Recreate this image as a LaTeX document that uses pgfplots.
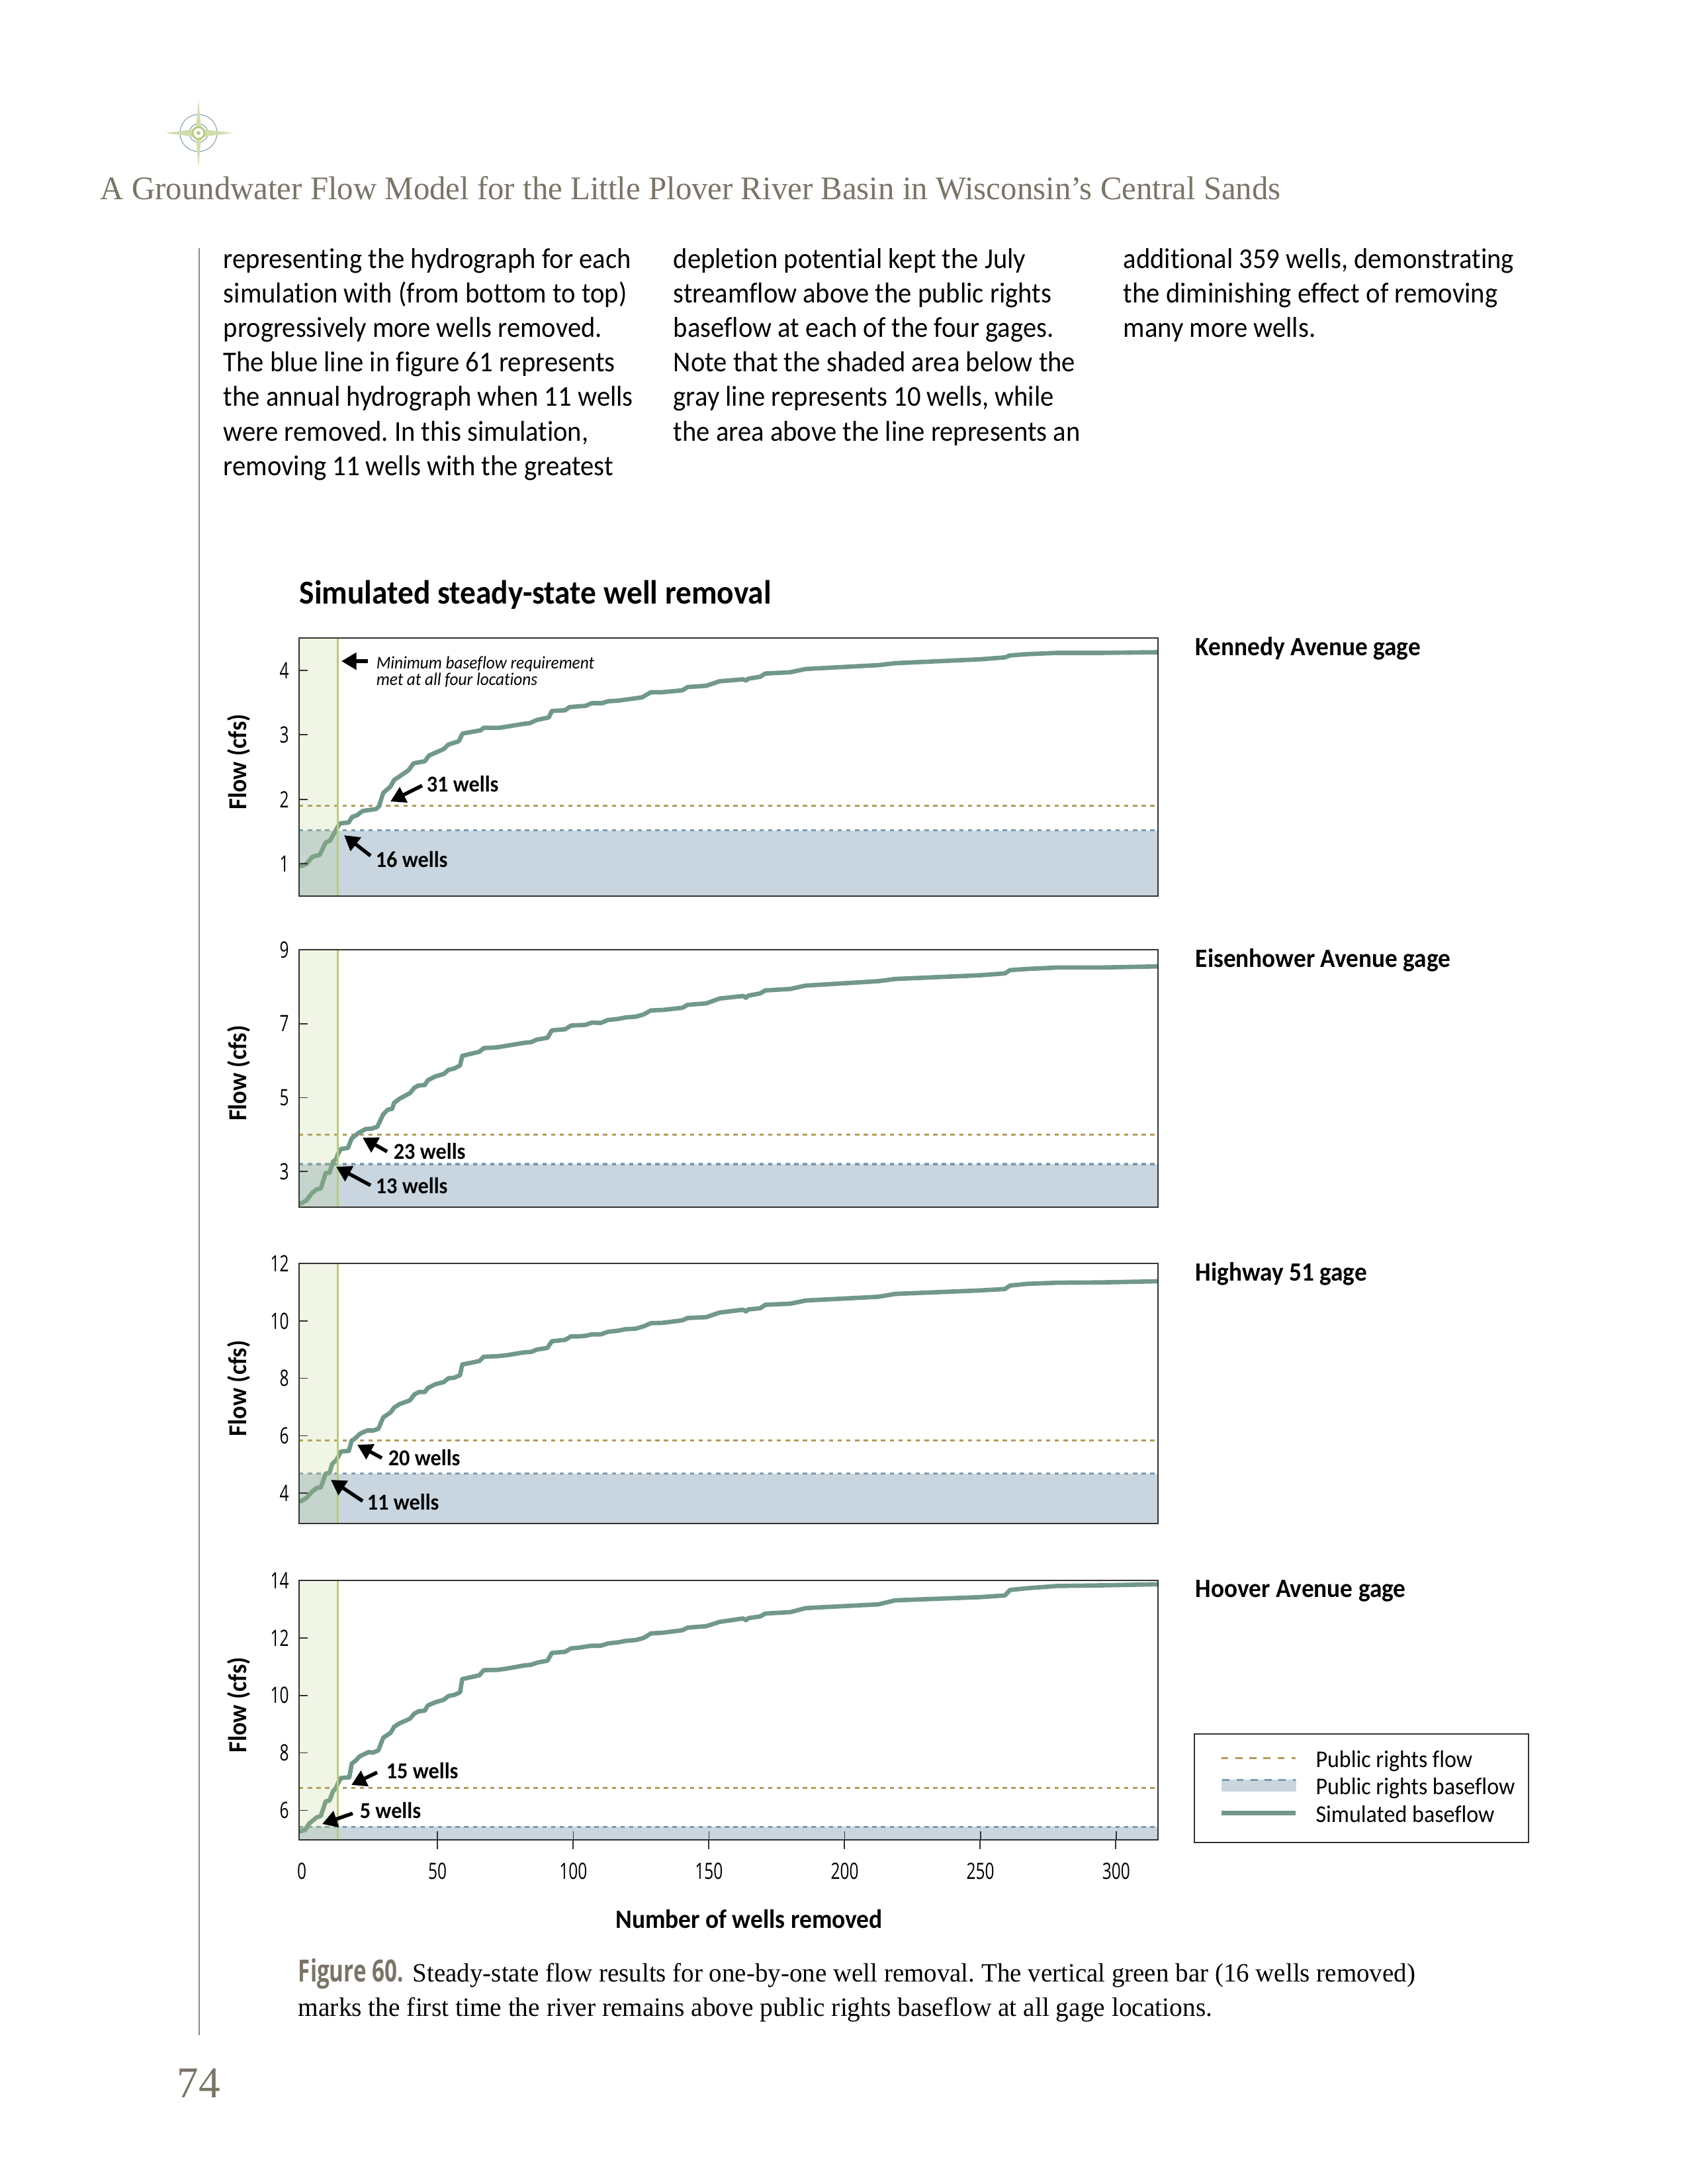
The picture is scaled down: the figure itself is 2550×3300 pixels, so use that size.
\documentclass[border=0pt]{standalone}
\usepackage{fontspec}
\setmainfont[FakeStretch=0.936, Ligatures=NoCommon]{Carlito}
\newfontfamily\condfont[FakeStretch=0.72]{Open Sans}
\newfontfamily\serif[FakeStretch=0.98]{Liberation Serif}
\usepackage{pgfplots}
\pgfplotsset{compat=1.18}
\usetikzlibrary{arrows.meta}

\definecolor{curve}{RGB}{113,152,138}
\definecolor{flowc}{RGB}{179,155,90}
\definecolor{basec}{RGB}{126,154,174}
\definecolor{basefill}{RGB}{201,214,224}
\definecolor{bandc}{RGB}{183,204,127}
\definecolor{headgray}{RGB}{122,116,104}

% x of the green bar and of the axis ends
\def\xa{-1}
\def\xb{315.4}
\def\xg{13.2}

\pgfplotsset{
  panel/.style={
    anchor=north west, scale only axis, width=311.5bp, height=93.6bp,
    xmin=\xa, xmax=\xb, axis on top, clip=false,
    axis line style={draw=black!80, line width=0.42pt},
    xtick=\empty, ytick pos=left, xtick pos=bottom,
    tick style={draw=black!80, line width=0.4pt},
    major tick length=3.2bp, tick align=inside,
    /pgf/number format/assume math mode=true,
    ticklabel style={font=\condfont\fontsize{8.2}{10}\selectfont},
    yticklabel style={inner xsep=3.5bp},
    ylabel={\bfseries Flow (cfs)},
    ylabel style={font=\fontsize{9.4}{10}\selectfont, at={(axis description cs:-0.0705,0.52)}, anchor=center, rotate=0},
  },
  flowline/.style={flowc, line width=0.75pt, dash pattern=on 1.55bp off 1.6bp, forget plot},
  baseline/.style={basec, line width=0.75pt, dash pattern=on 1.55bp off 1.6bp, forget plot},
  basearea/.style={fill=basefill, draw=none, forget plot},
  sim/.style={curve, line width=1.6pt, line join=round, forget plot},
  band/.style={fill=bandc, fill opacity=0.2, draw=none, forget plot},
  bar/.style={bandc, line width=0.85pt, forget plot},
}

\pgfplotstableread{
x y
-1 0.97
0 0.97
1.7 1.0
3.9 1.11
6.6 1.14
8.8 1.33
10.4 1.36
12.0 1.48
13.3 1.58
14.2 1.63
17.2 1.64
18.6 1.73
20.2 1.75
22.4 1.82
27.3 1.85
28.4 1.89
30 2.10
32.7 2.20
34 2.30
39.3 2.45
41.2 2.56
45.3 2.59
46.9 2.68
52.3 2.78
54 2.85
57.8 2.90
59.2 3.02
65.9 3.07
67 3.11
73 3.11
81.7 3.17
83.9 3.18
86.6 3.23
91 3.27
92.1 3.37
97 3.38
98.6 3.43
104.6 3.45
106.8 3.49
110.6 3.49
112.8 3.52
116.6 3.53
125.3 3.58
128.6 3.66
132.7 3.66
140.2 3.69
142.1 3.74
149 3.76
153.9 3.83
162.6 3.86
163.6 3.84
164.5 3.87
168.9 3.90
170.7 3.95
180 3.97
185.6 4.02
212.4 4.08
218.6 4.11
249.7 4.17
259 4.20
260.9 4.23
267.1 4.25
278.3 4.27
294.5 4.27
315.4 4.28
}\kennedy

\pgfplotstableread{
x y
-1 2.13
0 2.15
1.7 2.22
3.9 2.43
5.5 2.52
7.0 2.54
8.8 2.96
10.2 2.97
11.5 3.27
12.6 3.33
13.3 3.48
14.4 3.61
17 3.64
18.4 3.90
20.8 4.04
23.5 4.15
25.7 4.16
27.8 4.21
30 4.55
31.6 4.67
33.3 4.70
34 4.86
36 4.97
39.8 5.12
41.5 5.27
43.1 5.33
45.3 5.34
46.4 5.47
49.1 5.57
52.3 5.64
54 5.75
56.2 5.79
58.3 5.87
59.1 6.13
65.4 6.24
67 6.34
71.9 6.36
81.7 6.48
84.5 6.50
86.6 6.57
90.5 6.62
92.1 6.82
97 6.85
99.2 6.95
101.9 6.96
104.6 6.97
106.8 7.03
110.1 7.02
112.8 7.10
116.6 7.13
119.3 7.17
123.1 7.19
125.9 7.25
128.6 7.36
132.7 7.37
140.2 7.43
142.1 7.51
149 7.55
153.9 7.68
162.6 7.75
163.6 7.70
164.5 7.76
168.9 7.82
170.7 7.90
180 7.94
185.6 8.03
212.4 8.15
218.6 8.21
249.7 8.31
259 8.36
260.9 8.45
267.1 8.48
278.3 8.52
294.5 8.52
315.4 8.55
}\eisenhower

\pgfplotstableread{
x y
-1 3.72
0 3.73
1.7 3.83
3.9 4.06
5.5 4.18
7 4.20
8.8 4.68
10.2 4.71
11.2 5.02
12.6 5.14
13.3 5.25
14.4 5.45
17.3 5.47
18.4 5.83
19.7 5.91
21.3 6.06
24 6.18
26.2 6.18
28.2 6.24
30 6.64
32.7 6.81
34 6.98
36 7.10
39.8 7.23
41.5 7.44
43.1 7.52
45.3 7.52
46.4 7.66
49.1 7.79
52.3 7.87
54 8.00
56.2 8.02
58.3 8.11
59.1 8.48
65.4 8.60
67 8.75
71.9 8.77
75.2 8.80
81.7 8.90
84.5 8.92
86.6 9.00
90.5 9.06
92.1 9.29
97 9.34
99.2 9.46
101.9 9.46
104.6 9.48
106.8 9.53
110.1 9.53
112.8 9.62
116.6 9.66
119.3 9.71
123.1 9.73
125.9 9.81
128.6 9.92
132.7 9.93
140.2 10.02
142.1 10.10
149 10.13
153.9 10.29
162.6 10.39
163.6 10.33
164.5 10.40
168.9 10.44
170.7 10.56
180 10.60
185.6 10.71
212.4 10.84
218.6 10.94
249.7 11.06
259 11.11
260.9 11.23
267.1 11.29
278.3 11.33
294.5 11.34
315.4 11.38
}\highway

\pgfplotstableread{
x y
-1 5.26
0 5.29
1.2 5.32
2.8 5.55
5.5 5.76
7 5.81
8.8 6.32
10.2 6.34
11.5 6.67
12.6 6.78
13.3 6.94
14.4 7.13
17.5 7.15
18.4 7.63
19.7 7.72
21.3 7.88
24.6 8.03
26.2 8.01
28.2 8.09
30 8.53
32.7 8.70
34 8.91
36 9.03
39.8 9.19
41.5 9.37
43.1 9.45
45.3 9.47
46.4 9.65
49.1 9.76
52.3 9.85
54 9.98
56.2 10.02
58.3 10.11
59.1 10.57
65.4 10.70
67 10.88
71.9 10.89
75.2 10.93
81.7 11.04
84.5 11.07
86.6 11.14
90.5 11.21
92.1 11.48
97 11.52
99.2 11.64
101.9 11.66
104.6 11.70
106.8 11.73
110.1 11.73
112.8 11.81
116.6 11.85
119.3 11.90
123.1 11.93
125.9 12.00
128.6 12.16
132.7 12.18
140.2 12.27
142.1 12.36
149 12.41
153.9 12.56
162.6 12.68
163.6 12.62
164.5 12.69
168.9 12.75
170.7 12.85
180 12.90
185.6 13.04
212.4 13.17
218.6 13.31
249.7 13.42
259 13.48
260.9 13.67
267.1 13.73
278.3 13.81
294.5 13.83
315.4 13.87
}\hoover

% one panel: data table, ymin, ymax, public rights baseflow, public rights flow
\newcommand{\panelplots}[5]{
  \addplot[basearea] coordinates {(\xa,#2) (\xb,#2) (\xb,#4) (\xa,#4)} -- cycle;
  \addplot[flowline] coordinates {(\xa,#5) (\xb,#5)};
  \addplot[baseline] coordinates {(\xa,#4) (\xb,#4)};
  \addplot[sim] table[x=x,y=y] {#1};
  \addplot[band] coordinates {(\xa,#2) (\xg,#2) (\xg,#3) (\xa,#3)} -- cycle;
  \addplot[bar] coordinates {(\xg,#2) (\xg,#3)};
}
% px coordinates on the page for notes
\newcommand{\lbl}[3]{\node[anchor=base west, inner sep=0pt, font=\fontsize{8.3}{10}\selectfont\bfseries] at ({#1-1},{#2+2}) {#3};}
\newcommand{\arr}[4]{\draw[-{Triangle[width=6bp,length=5.4bp]}, line width=1.3bp] (#1,#2) -- (#3,#4);}
\newcommand{\bl}[3]{\node[anchor=base west, inner sep=0pt, font=\fontsize{10.45}{12}\selectfont] at (#1,{405+52.2*#2}) {#3};}
\newcommand{\gage}[2]{\node[anchor=base west, inner sep=0pt, font=\fontsize{9.6}{11}\selectfont\bfseries] at (1806,{#1+2}) {#2};}

\begin{document}
\frenchspacing
\begin{tikzpicture}
\begin{scope}[x=0.24bp,y=-0.24bp]
\path[use as bounding box] (0,0) rectangle (2550,3300);

% header
\draw[basec, line width=0.25pt] (300,201) circle (28) (300,201) circle (14);
\fill[bandc!65] (300,150) -- (304,195) -- (352,201) -- (304,207) -- (300,253) -- (296,207) -- (250,201) -- (296,195) -- cycle;
\draw[bandc, line width=0.7pt, fill=white] (300,201) circle (9);
\fill[bandc] (300,201) circle (3);
\node[anchor=base west, inner sep=0pt, text=headgray, font=\serif\fontsize{12}{14}\selectfont] at (151,301)
  {A Groundwater Flow Model for the Little Plover River Basin in Wisconsin’s Central Sands};
\draw[headgray!85, line width=0.5pt] (301,375) -- (301,3075);
\node[anchor=base, inner sep=0pt, text=headgray, font=\serif\fontsize{16}{20}\selectfont] at (300,3169) {74};

% body text
\bl{337}{0}{representing the hydrograph for each}
\bl{337}{1}{simulation with (from bottom to top)}
\bl{337}{2}{progressively more wells removed.}
\bl{337}{3}{The blue line in figure 61 represents}
\bl{337}{4}{the annual hydrograph when 11 wells}
\bl{337}{5}{were removed. In this simulation,}
\bl{337}{6}{removing 11 wells with the greatest}
\bl{1017}{0}{depletion potential kept the July}
\bl{1017}{1}{streamflow above the public rights}
\bl{1017}{2}{baseflow at each of the four gages.}
\bl{1017}{3}{Note that the shaded area below the}
\bl{1017}{4}{gray line represents 10 wells, while}
\bl{1017}{5}{the area above the line represents an}
\bl{1697}{0}{additional 359 wells, demonstrating}
\bl{1697}{1}{the diminishing effect of removing}
\bl{1697}{2}{many more wells.}

% chart title
\node[anchor=base west, inner sep=0pt, font=\fontsize{12.2}{15}\selectfont\bfseries] at (452,912) {Simulated steady-state well removal};
\end{scope}

\begin{axis}[panel, at={(108.48bp,-231.36bp)}, ymin=0.5, ymax=4.5, ytick={1,2,3,4}]
\panelplots{\kennedy}{0.5}{4.5}{1.52}{1.9}
\end{axis}

\begin{axis}[panel, height=93.3bp, at={(108.48bp,-344.4bp)}, ymin=2.04, ymax=9, ytick={3,5,7,9}]
\panelplots{\eisenhower}{2.04}{9}{3.2}{4.0}
\end{axis}

\begin{axis}[panel, height=94.3bp, at={(108.48bp,-458.16bp)}, ymin=2.94, ymax=12, ytick={4,6,8,10,12}]
\panelplots{\highway}{2.94}{12}{4.68}{5.84}
\end{axis}

\begin{axis}[panel, height=94.1bp, at={(108.48bp,-573.12bp)}, ymin=4.97, ymax=14, ytick={6,8,10,12,14},
  xtick={50,100,150,200,250,300},
  extra x ticks={0}, extra x tick style={major tick length=0pt},
  xticklabel style={yshift=-4.8bp},
  xlabel={\bfseries Number of wells removed},
  xlabel style={font=\fontsize{9.65}{11}\selectfont, at={(axis description cs:0.524,-0.305)}, anchor=center},
  legend style={at={(axis description cs:1.0416,0.4106)}, anchor=north west, draw=black!80, line width=0.4pt,
    font=\fontsize{8.75}{9.6}\selectfont, inner xsep=3bp, inner ysep=4bp, row sep=-1.6bp,
    cells={anchor=west}, nodes={yshift=-1bp}},
  legend cell align=left]
\panelplots{\hoover}{4.97}{14}{5.43}{6.79}
\addlegendimage{legend image code/.code={\path (0,0); \draw[flowc, line width=0.75pt, dash pattern=on 2.6bp off 2.5bp] (6.6bp,0) -- (33.6bp,0);}}
\addlegendentry{\hspace*{4.5bp}Public rights flow}
\addlegendimage{legend image code/.code={\path (0,0); \fill[basefill] (7bp,-2bp) rectangle (33.6bp,2bp); \draw[basec, line width=0.75pt, dash pattern=on 2.6bp off 2.5bp] (7bp,2bp) -- (33.6bp,2bp);}}
\addlegendentry{\hspace*{4.5bp}Public rights baseflow}
\addlegendimage{legend image code/.code={\path (0,0); \draw[curve, line width=1.6pt] (6.6bp,0) -- (33.6bp,0);}}
\addlegendentry{\hspace*{4.5bp}Simulated baseflow}
\end{axis}

\begin{scope}[x=0.24bp,y=-0.24bp]
% ticks of the bottom axis point outward, the y ticks inward
\foreach \t in {661,866,1071,1276,1481,1686} \draw[black!80, line width=0.4pt] (\t,2780) -- (\t,2794);

% notes on the panels
\arr{556}{999}{516}{999}
\node[anchor=base west, inner sep=0pt, font=\fontsize{6.5}{8}\selectfont\itshape] at (568,1010) {Minimum baseflow requirement};
\node[anchor=base west, inner sep=0pt, font=\fontsize{6.5}{8}\selectfont\itshape] at (568,1035) {met at all four locations};
\arr{638}{1187}{590}{1211} \lbl{645}{1194}{31 wells}
\arr{560}{1293}{520}{1262} \lbl{568}{1308}{16 wells}
\arr{585}{1740}{548}{1719} \lbl{595}{1749}{23 wells}
\arr{560}{1791}{508}{1763} \lbl{568}{1801}{13 wells}
\arr{577}{2203}{540}{2183} \lbl{587}{2212}{20 wells}
\arr{548}{2268}{500}{2236} \lbl{555}{2279}{11 wells}
\arr{570}{2678}{531}{2697} \lbl{584}{2685}{15 wells}
\arr{533}{2740}{487}{2756} \lbl{544}{2745}{5 wells}

\gage{988}{Kennedy Avenue gage}
\gage{1459}{Eisenhower Avenue gage}
\gage{1933}{Highway 51 gage}
\gage{2411}{Hoover Avenue gage}

% caption
\node[anchor=base west, inner sep=0pt, text=headgray, font=\condfont\fontsize{11.1}{14}\selectfont\bfseries] at (450,2994) {Figure 60.};
\node[anchor=base west, inner sep=0pt, font=\serif\fontsize{9.58}{12}\selectfont] at (623,2994)
  {Steady-state flow results for one-by-one well removal. The vertical green bar (16 wells removed)};
\node[anchor=base west, inner sep=0pt, font=\serif\fontsize{9.68}{12}\selectfont] at (450,3046)
  {marks the first time the river remains above public rights baseflow at all gage locations.};
\end{scope}
\end{tikzpicture}
\end{document}
